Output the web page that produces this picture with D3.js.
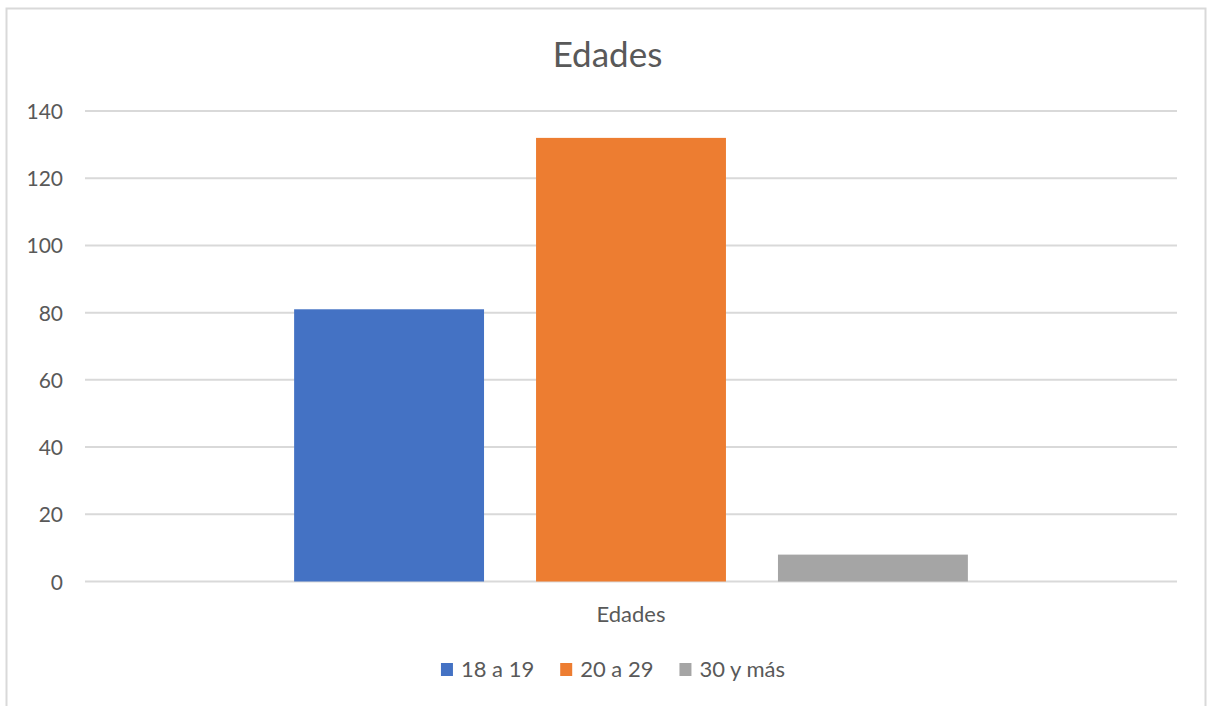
<!DOCTYPE html>
<html>
<head>
<meta charset="utf-8">
<script src="https://cdn.jsdelivr.net/npm/d3@7"></script>
<style>
  body { margin: 0; background: #fff; }
  text { font-family: Lato, "Open Sans", sans-serif; fill: #595959; }
</style>
</head>
<body>
<div id="plot"></div>
<script>
// data
const categories = ["Edades"];
const series = ["18 a 19", "20 a 29", "30 y más"];
const values = [81, 132, 8];
const colors = ["#4472C4", "#ED7D31", "#A5A5A5"];
const yTicks = [0, 20, 40, 60, 80, 100, 120, 140];

const w = 1207, h = 706;
const margin = {left: 85, right: 30, top: 111, bottom: 124};
const innerWidth = 1177 - margin.left;
const innerHeight = 581.5 - margin.top;

const svg = d3.select("div#plot")
  .append("svg")
  .attr("width", w)
  .attr("height", h);

// chart border
svg.append("rect")
  .attr("x", 6.5)
  .attr("y", 8.5)
  .attr("width", 1199)
  .attr("height", 720)
  .attr("fill", "none")
  .attr("stroke", "#D9D9D9")
  .attr("stroke-width", 2);

// title
svg.append("text")
  .attr("x", 607.5)
  .attr("y", 67)
  .attr("text-anchor", "middle")
  .style("font-size", "35px")
  .text("Edades");

const plot = svg.append("g")
  .attr("id", "plotarea")
  .attr("transform", `translate(${margin.left}, ${margin.top})`);

const xScale = d3.scaleBand()
  .domain(categories)
  .range([0, innerWidth])
  .paddingInner(0)
  .paddingOuter(0.1915 / 0.617);

const xSub = d3.scaleBand()
  .domain(series)
  .range([0, xScale.bandwidth()])
  .paddingInner(0.215)
  .paddingOuter(0);

const yScale = d3.scaleLinear()
  .domain([0, 140])
  .range([innerHeight, 0]);

// gridlines
plot.append("g")
  .attr("id", "grid")
  .selectAll("line")
  .data(yTicks)
  .enter()
  .append("line")
  .attr("x1", 0)
  .attr("x2", innerWidth)
  .attr("y1", d => yScale(d))
  .attr("y2", d => yScale(d))
  .attr("stroke", "#D9D9D9")
  .attr("stroke-width", 2);

// y axis labels
const yAxis = d3.axisLeft(yScale).tickValues(yTicks).tickSize(0).tickPadding(22);
plot.append("g")
  .attr("id", "yaxis")
  .call(yAxis)
  .call(g => g.select(".domain").remove())
  .call(g => g.selectAll("text")
    .style("font-size", "21px")
    .style("font-family", "Lato, sans-serif")
    .attr("fill", "#595959")
    .attr("dy", "0.36em"));

// bars
plot.append("g")
  .attr("id", "bars")
  .selectAll("rect")
  .data(series.map((s, i) => ({cat: categories[0], s: s, v: values[i], c: colors[i]})))
  .enter()
  .append("rect")
  .attr("x", d => xScale(d.cat) + xSub(d.s))
  .attr("y", d => yScale(d.v))
  .attr("width", xSub.bandwidth())
  .attr("height", d => innerHeight - yScale(d.v))
  .attr("fill", d => d.c);

// x axis label
const xAxis = d3.axisBottom(xScale).tickSize(0).tickPadding(25);
plot.append("g")
  .attr("id", "xaxis")
  .attr("transform", `translate(0, ${innerHeight})`)
  .call(xAxis)
  .call(g => g.select(".domain").remove())
  .call(g => g.selectAll("text")
    .style("font-size", "22px")
    .style("font-family", "Lato, sans-serif")
    .attr("fill", "#595959"));

// legend
const legend = svg.append("g").attr("id", "legend");
const items = legend.selectAll("g")
  .data(series)
  .enter()
  .append("g");
items.append("rect")
  .attr("width", 12)
  .attr("height", 13)
  .attr("y", -14)
  .attr("fill", (d, i) => colors[i]);
items.append("text")
  .attr("x", 20)
  .style("font-size", "22px")
  .text(d => d);

let widths = [];
items.each(function() { widths.push(20 + d3.select(this).select("text").node().getComputedTextLength()); });
const gap = 26;
const total = d3.sum(widths) + gap * (widths.length - 1);
let xPos = 613 - total / 2;
items.attr("transform", (d, i) => {
  const t = `translate(${xPos}, 677)`;
  xPos += widths[i] + gap;
  return t;
});
</script>
</body>
</html>
